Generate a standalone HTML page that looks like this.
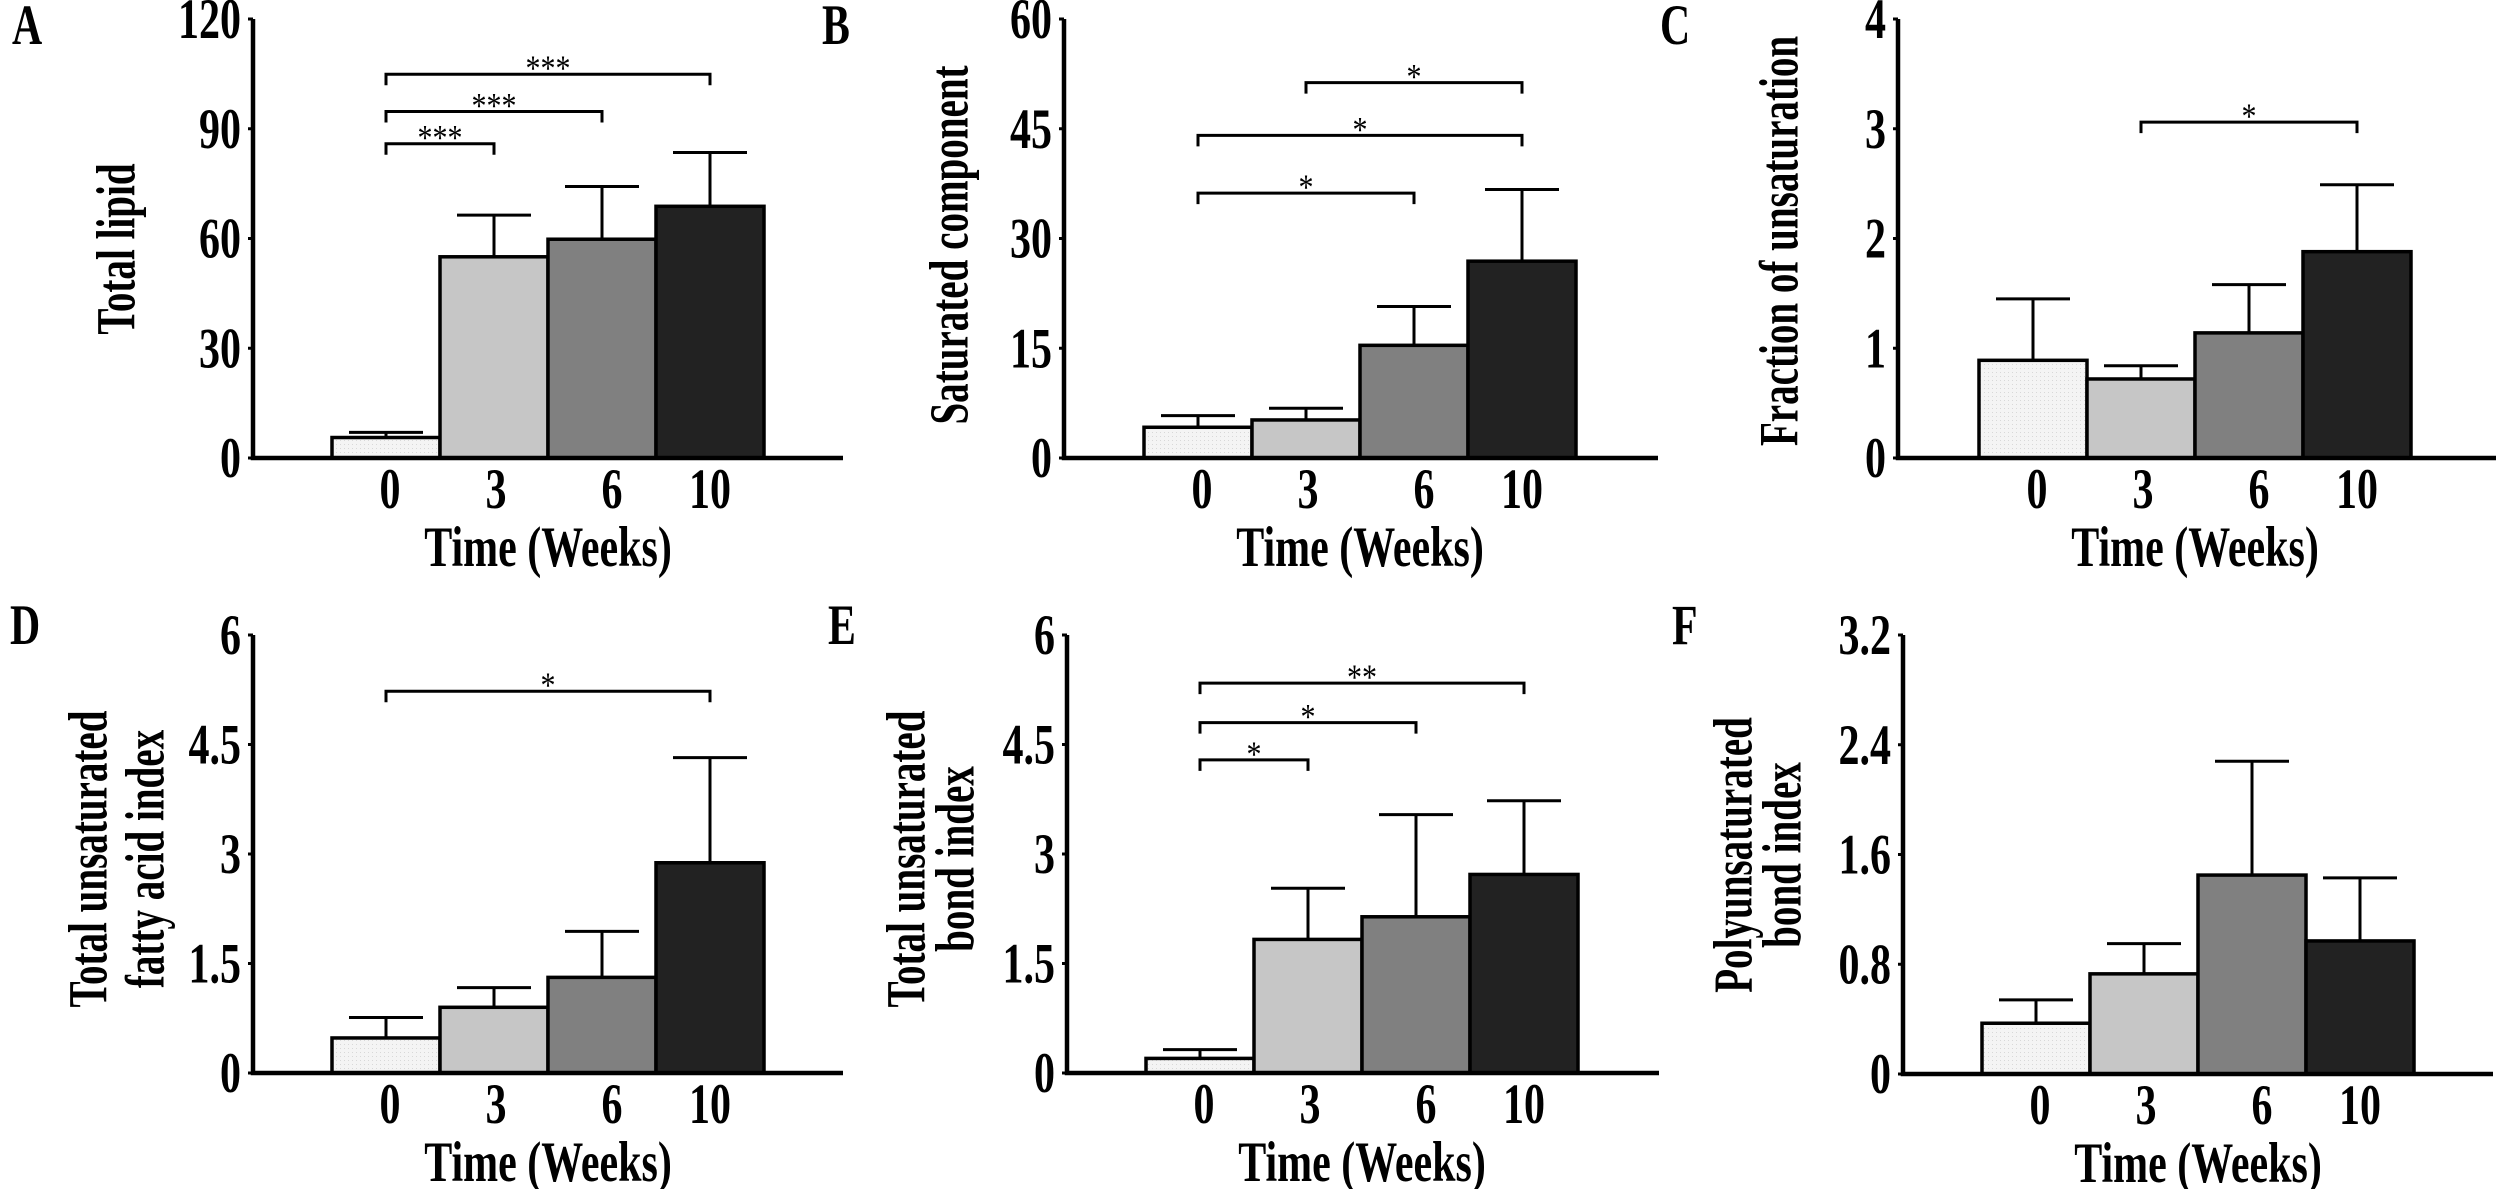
<!DOCTYPE html>
<html><head><meta charset="utf-8"><style>
html,body{margin:0;padding:0;background:#fff;}
svg{display:block;font-family:"Liberation Serif",serif;font-weight:bold;}
</style></head><body>
<svg id="fig" width="2500" height="1189" viewBox="0 0 2500 1189" xmlns="http://www.w3.org/2000/svg">
<defs>
<pattern id="dots" width="4" height="4" patternUnits="userSpaceOnUse"><rect width="4" height="4" fill="#f4f4f4"/><rect width="1" height="1" fill="#d8d8d8"/></pattern>
</defs>
</svg>
<script>
const categories = ["0","3","6","10"];
const valuesA = [5.6, 55.0, 59.8, 68.8];
const errorsA = [7.0, 66.4, 74.2, 83.5];
const valuesB = [4.2, 5.2, 15.4, 26.9];
const errorsB = [5.8, 6.8, 20.7, 36.7];
const valuesC = [0.89, 0.72, 1.14, 1.88];
const errorsC = [1.45, 0.84, 1.58, 2.49];
const valuesD = [0.48, 0.90, 1.31, 2.88];
const errorsD = [0.76, 1.17, 1.94, 4.32];
const valuesE = [0.20, 1.83, 2.14, 2.72];
const errorsE = [0.32, 2.53, 3.54, 3.73];
const valuesF = [0.37, 0.73, 1.45, 0.97];
const errorsF = [0.54, 0.95, 2.28, 1.43];
const ticksA = ["0","30","60","90","120"];
const ticksB = ["0","15","30","45","60"];
const ticksC = ["0","1","2","3","4"];
const ticksD = ["0","1.5","3","4.5","6"];
const ticksE = ["0","1.5","3","4.5","6"];
const ticksF = ["0","0.8","1.6","2.4","3.2"];
const sigA = [[0,1,85.9,"***"],[0,2,94.7,"***"],[0,3,104.9,"***"]];
const sigB = [[0,2,36.2,"*"],[0,3,44.1,"*"],[1,3,51.3,"*"]];
const sigC = [[1,3,3.06,"*"]];
const sigD = [[0,3,5.23,"*"]];
const sigE = [[0,1,4.29,"*"],[0,2,4.80,"*"],[0,3,5.34,"**"]];
const sigF = [];

const NS="http://www.w3.org/2000/svg";
const svg=document.getElementById('fig');
function mk(tag,attrs,parent){const e=document.createElementNS(NS,tag);for(const k in attrs)e.setAttribute(k,attrs[k]);(parent||svg).appendChild(e);return e;}
const fills=["url(#dots)","#c6c6c6","#808080","#222222"];
const labelOff=[4,2,10,0];

const panels=[
 {id:"a",letter:"A",lx:12,ly:44,ax:253,bx:332,top:19,zero:458,xend:843,max:120,vals:valuesA,errs:errorsA,ticks:ticksA,sig:sigA,title:["Total lipid"],tx:[117],ty:249},
 {id:"b",letter:"B",lx:822,ly:44,ax:1064,bx:1144,top:19,zero:458,xend:1658,max:60,vals:valuesB,errs:errorsB,ticks:ticksB,sig:sigB,title:["Saturated component"],tx:[950],ty:245},
 {id:"c",letter:"C",lx:1660,ly:44,ax:1898,bx:1979,top:19,zero:458,xend:2496,max:4,vals:valuesC,errs:errorsC,ticks:ticksC,sig:sigC,title:["Fraction of unsaturation"],tx:[1780],ty:241},
 {id:"d",letter:"D",lx:10,ly:644,ax:253,bx:332,top:635,zero:1073,xend:843,max:6,vals:valuesD,errs:errorsD,ticks:ticksD,sig:sigD,title:["Total unsaturated","fatty acid index"],tx:[89,146],ty:859},
 {id:"e",letter:"E",lx:828,ly:644,ax:1067,bx:1146,top:635,zero:1073,xend:1659,max:6,vals:valuesE,errs:errorsE,ticks:ticksE,sig:sigE,title:["Total unsaturated","bond index"],tx:[907,956],ty:859},
 {id:"f",letter:"F",lx:1672,ly:644,ax:1903,bx:1982,top:635,zero:1074,xend:2493,max:3.2,vals:valuesF,errs:errorsF,ticks:ticksF,sig:sigF,title:["Polyunsaturated","bond index"],tx:[1734,1783],ty:855}
];
const BW=108;
const SY=1.35;

panels.forEach(p=>{
 const g=mk('g',{});
 
 
 const y=v=>p.zero-(v/p.max)*(p.zero-p.top);
 const xc=i=>p.bx+BW*i+BW/2;
 const L=mk('text',{x:0,y:0,'font-size':44,transform:`translate(${p.lx},${p.ly}) scale(0.95,1.3)`},g);L.textContent=p.letter;
 
 
 p.vals.forEach((v,i)=>{
  const r=mk('rect',{x:p.bx+BW*i,y:y(v),width:BW,height:p.zero-y(v),fill:fills[i],stroke:'#000','stroke-width':3.5},g);
  
  
  const e=p.errs[i];
  const ln=mk('path',{d:`M${xc(i)},${y(v)}V${y(e)}M${xc(i)-37},${y(e)}H${xc(i)+37}`,stroke:'#000','stroke-width':3,fill:'none'},g);
  
  
 });
 const ax=mk('path',{d:`M${p.ax},${p.top}V${p.zero}H${p.xend}`,stroke:'#000','stroke-width':4.5,fill:'none'},g);
 
 
 p.ticks.forEach((t,k)=>{
  const v=p.max*k/(p.ticks.length-1);
  mk('line',{x1:p.ax-5,x2:p.ax,y1:y(v),y2:y(v),stroke:'#000','stroke-width':3},g);
  const tt=mk('text',{x:0,y:0,'font-size':42,'text-anchor':'end',transform:`translate(${p.ax-12},${y(v)+19}) scale(1,${SY})`},g);
  tt.textContent=t;
  
  
 });
 categories.forEach((c,i)=>{
  const t=mk('text',{x:0,y:0,'font-size':42,'text-anchor':'middle',transform:`translate(${xc(i)+labelOff[i]},${p.zero+50}) scale(1,${SY})`},g);
  t.textContent=c;
  
  
 });
 const xt=mk('text',{x:0,y:0,'font-size':42,'text-anchor':'middle',transform:`translate(${p.bx+2*BW},${p.zero+108}) scale(1,${SY})`},g);
 xt.textContent="Time (Weeks)";
 
 
 p.title.forEach((s,k)=>{
  const t=mk('text',{x:0,y:0,'font-size':42,'text-anchor':'middle','dominant-baseline':'central',transform:`translate(${p.tx[k]},${p.ty}) rotate(-90) scale(0.93,1.3)`},g);
  t.textContent=s;
  
  
 });
 p.sig.forEach(s=>{
  const yy=y(s[2]);
  const b=mk('path',{d:`M${xc(s[0])},${yy+11}V${yy}H${xc(s[1])}V${yy+11}`,stroke:'#000','stroke-width':3,fill:'none'},g);
  
  
  const st=mk('text',{x:0,y:0,'font-size':30,'font-weight':'normal','text-anchor':'middle',transform:`translate(${(xc(s[0])+xc(s[1]))/2},${yy+6}) scale(1,1.2)`},g);
  st.textContent=s[3];
  
  
 });
});
</script>
</body></html>
